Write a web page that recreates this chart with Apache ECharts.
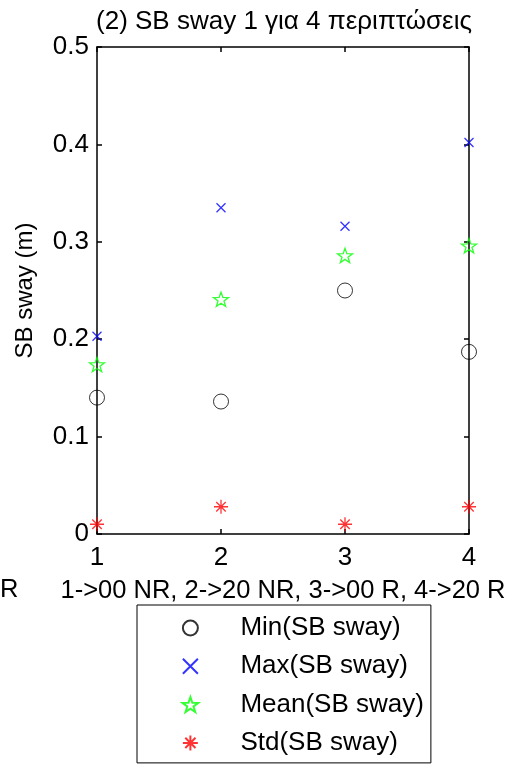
<!DOCTYPE html>
<html>
<head>
<meta charset="utf-8">
<script src="https://cdn.jsdelivr.net/npm/echarts@6/dist/echarts.min.js"></script>
<style>html,body{margin:0;padding:0;background:#fff;}#c{width:509px;height:764px;}</style>
</head>
<body>
<div id="c"></div>
<script>
var cases = [1, 2, 3, 4];
var minVals  = [0.140, 0.136, 0.250, 0.187];
var maxVals  = [0.203, 0.335, 0.316, 0.402];
var meanVals = [0.174, 0.241, 0.286, 0.296];
var stdVals  = [0.010, 0.028, 0.010, 0.028];
var yTicks = [0, 0.1, 0.2, 0.3, 0.4, 0.5];
var xTicks = [1, 2, 3, 4];

var FONT = '"Liberation Sans", Arial, sans-serif';
var STAR = 'path://M10,0 L12.35,6.76 L19.51,6.91 L13.8,11.24 L15.88,18.09 L10,14 L4.12,18.09 L6.2,11.24 L0.49,6.91 L7.65,6.76 Z';
var XMARK = 'path://M0,0 L8,8 M8,0 L0,8';
var AST = 'path://M0,5 L10,5 M5,0 L5,10 M1.6,1.6 L8.4,8.4 M8.4,1.6 L1.6,8.4';

function pairs(vals) { return cases.map(function (c, i) { return [c, vals[i]]; }); }

var chart = echarts.init(document.getElementById('c'));
var axisCommon = {
  axisLine: { show: true, onZero: false, lineStyle: { color: '#000', width: 1.5 } },
  axisTick: { show: true, inside: true, length: 5, lineStyle: { color: '#000', width: 1.5 } },
  splitLine: { show: false }
};
chart.setOption({
  animation: false,
  backgroundColor: '#fff',
  title: {
    text: '(2) SB sway 1 για 4 περιπτώσεις',
    left: 279, textAlign: 'center', top: 4,
    textStyle: { fontFamily: FONT, fontSize: 26, fontWeight: 'normal', color: '#000' }
  },
  grid: { left: 97, right: 40, top: 47, bottom: 230, containLabel: false },
  xAxis: [
    Object.assign({
      type: 'value', min: xTicks[0], max: xTicks[xTicks.length - 1], interval: 1,
      position: 'bottom',
      name: '1->00 NR, 2->20 NR, 3->00 R, 4->20 R',
      nameLocation: 'middle', nameGap: 44,
      nameTextStyle: { fontFamily: FONT, fontSize: 25.5, color: '#000' },
      axisLabel: { fontFamily: FONT, fontSize: 26, color: '#000', margin: 11 }
    }, axisCommon),
    Object.assign({
      type: 'value', min: xTicks[0], max: xTicks[xTicks.length - 1], interval: 1,
      position: 'top', axisLabel: { show: false }
    }, axisCommon)
  ],
  yAxis: [
    Object.assign({
      type: 'value', min: yTicks[0], max: yTicks[yTicks.length - 1], interval: 0.1,
      position: 'left',
      name: 'SB sway (m)', nameLocation: 'middle', nameGap: 60, nameRotate: 90,
      nameTextStyle: { fontFamily: FONT, fontSize: 24, color: '#000' },
      axisLabel: { fontFamily: FONT, fontSize: 26, color: '#000', margin: 8,
        formatter: function (v) { return v === 0 ? '0' : v.toFixed(1); } }
    }, axisCommon),
    Object.assign({
      type: 'value', min: yTicks[0], max: yTicks[yTicks.length - 1], interval: 0.1,
      position: 'right', axisLabel: { show: false }
    }, axisCommon)
  ],
  legend: {
    orient: 'vertical', left: 137, top: 605,
    padding: [10, 7, 7, 43],
    itemGap: 12.3, itemWidth: 90, itemHeight: 15,
    borderColor: '#000', borderWidth: 1, backgroundColor: '#fff',
    textStyle: { fontFamily: FONT, fontSize: 26, color: '#000' },
    data: ['Min(SB sway)', 'Max(SB sway)', 'Mean(SB sway)', 'Std(SB sway)']
  },
  graphic: [{
    type: 'text', left: 0, top: 577,
    style: { text: 'R', font: '25.5px ' + FONT, fill: '#000' }
  }],
  series: [
    {
      name: 'Min(SB sway)', type: 'scatter', clip: false, data: pairs(minVals),
      symbol: 'circle', symbolSize: 15,
      itemStyle: { color: 'none', borderColor: '#000', borderWidth: 1 }
    },
    {
      name: 'Max(SB sway)', type: 'scatter', clip: false, data: pairs(maxVals),
      symbol: XMARK, symbolSize: 9,
      itemStyle: { color: 'none', borderColor: '#0000ff', borderWidth: 1.3 }
    },
    {
      name: 'Mean(SB sway)', type: 'scatter', clip: false, data: pairs(meanVals),
      symbol: STAR, symbolSize: 15, symbolKeepAspect: true,
      itemStyle: { color: 'none', borderColor: '#00ff00', borderWidth: 1.3 }
    },
    {
      name: 'Std(SB sway)', type: 'scatter', clip: false, data: pairs(stdVals),
      symbol: AST, symbolSize: 14,
      itemStyle: { color: 'none', borderColor: '#ff0000', borderWidth: 1.3 }
    }
  ]
});
</script>
</body>
</html>
